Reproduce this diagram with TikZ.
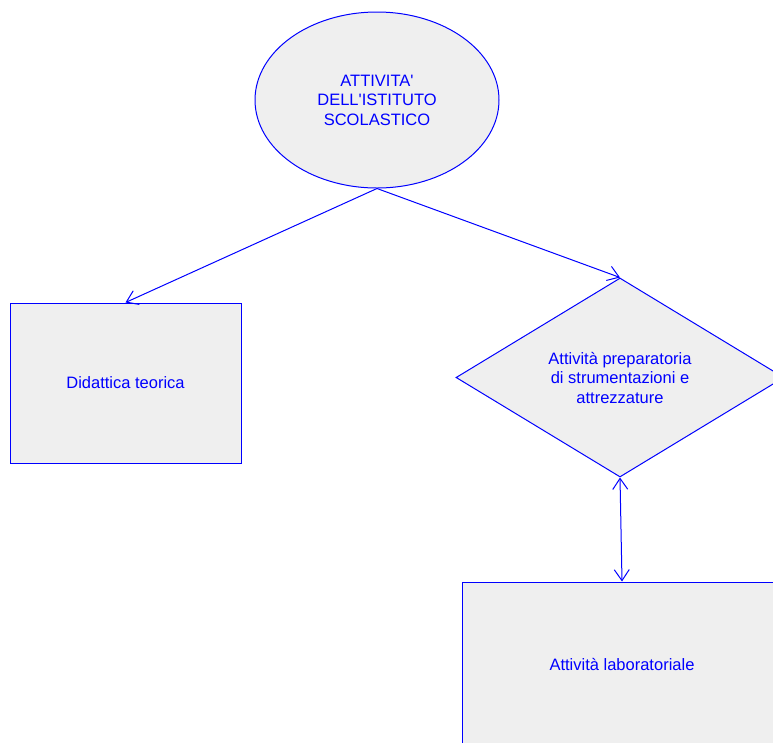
\documentclass[tikz,border=0pt]{standalone}
\usepackage{fontspec}
\setmainfont{Liberation Sans}
\usetikzlibrary{shapes.geometric,arrows.meta}
\definecolor{boxfill}{RGB}{239,239,239}
\begin{document}
\begin{tikzpicture}[x=1pt,y=-1pt,>={Straight Barb[length=11pt,width=15pt]},
	every node/.style={text=blue,font=\fontsize{16.5}{19.5}\selectfont,align=center,inner sep=0pt},
	shapebox/.style={draw=blue,line width=1pt,fill=boxfill},
	link/.style={draw=blue,line width=1pt}]
				\useasboundingbox (0,0) rectangle (773,742);
				\clip (0,0) rectangle (773,742);
				\node[shapebox,ellipse,minimum width=244pt,minimum height=176pt] (istituto) at (377,100) {ATTIVITA\textquotesingle\\DELL\textquotesingle ISTITUTO\\SCOLASTICO};
				\node[shapebox,rectangle,minimum width=231pt,minimum height=160pt] (teorica) at (125.5,383) {Didattica teorica};
				\node[shapebox,diamond,minimum width=328pt,minimum height=199pt] (preparatoria) at (620,377.5) {Attività preparatoria\\di strumentazioni e\\attrezzature};
				\node[shapebox,rectangle,minimum width=320pt,minimum height=164pt] (laboratorio) at (622,664) {Attività laboratoriale};
				\draw[link,->] (istituto.south) -- (teorica.north);
				\draw[link,->] (istituto.south) -- (preparatoria.north);
				\draw[link,<->] (preparatoria.south) -- (laboratorio.north);
			\end{tikzpicture}
\end{document}
